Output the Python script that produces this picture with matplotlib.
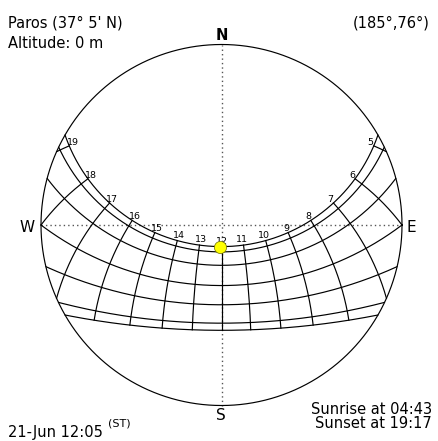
import numpy as np
import matplotlib
matplotlib.use("Agg")
import matplotlib.pyplot as plt

# ---- data ----
LATITUDE = 37 + 5 / 60          # Paros, 37° 5' N
# solar declinations of the drawn day paths (21st of Jun, May, Apr, Mar, Feb, Jan, Dec)
DAY_DECLINATIONS = [23.44, 20.14, 11.9, 0.0, -10.6, -20.0, -23.44]
HOUR_LINES = list(range(4, 21))           # solar hours drawn as hour lines
HOUR_LABELS = list(range(5, 20))          # hour labels on the 21-Jun path
SUN_AZIMUTH = 185
SUN_ALTITUDE = 76

TITLE_PLACE = "Paros (37° 5' N)"
TITLE_ALT = "Altitude: 0 m"
SUN_POS_TEXT = "(185°,76°)"
DATE_TEXT = "21-Jun 12:05"
DATE_SUP = "(ST)"
SUNRISE_TEXT = "Sunrise at 04:43"
SUNSET_TEXT = "Sunset at 19:17"

# ---- layout ----
W, H, DPI = 438, 441, 100
CX, CY, R = 221.5, 225.0, 180.5      # circle centre / radius in pixels (from top-left)

fig = plt.figure(figsize=(W / DPI, H / DPI), dpi=DPI)
fig.patch.set_facecolor("white")
ax = fig.add_axes([0, 0, 1, 1])
ax.set_xlim(-CX / R, (W - CX) / R)
ax.set_ylim(-(H - CY) / R, CY / R)
ax.axis("off")

FONT = "DejaVu Sans"


def project(dec, ha):
    """stereographic projection of the sun at declination dec / hour angle ha (deg)"""
    phi = np.radians(LATITUDE)
    d = np.radians(dec)
    h = np.radians(ha)
    e = -np.cos(d) * np.sin(h)
    n = np.sin(d) * np.cos(phi) - np.cos(d) * np.cos(h) * np.sin(phi)
    u = np.sin(phi) * np.sin(d) + np.cos(phi) * np.cos(d) * np.cos(h)
    x = e / (1 + u)
    y = n / (1 + u)
    x = np.where(u >= 0, x, np.nan)
    y = np.where(u >= 0, y, np.nan)
    return x, y


LW = 0.85
# horizon circle
t = np.linspace(0, 2 * np.pi, 721)
ax.plot(np.cos(t), np.sin(t), color="black", lw=LW, zorder=3)

# dotted cross
dot = (0, (1, 2.2))
ax.plot([-1, 1], [0, 0], ls=dot, color="#555555", lw=1.0, zorder=1)
ax.plot([0, 0], [-1, 1], ls=dot, color="#555555", lw=1.0, zorder=1)

# day paths
ha_grid = np.linspace(-180, 180, 4001)
for dec in DAY_DECLINATIONS:
    x, y = project(dec, ha_grid)
    ax.plot(x, y, color="black", lw=LW, zorder=2)

# hour lines
dec_grid = np.linspace(min(DAY_DECLINATIONS), max(DAY_DECLINATIONS), 1001)
for hr in HOUR_LINES:
    x, y = project(dec_grid, np.full_like(dec_grid, (hr - 12) * 15.0))
    ax.plot(x, y, color="black", lw=LW, zorder=2)

# hour labels (on the 21-Jun path)
px2pt = 72.0 / DPI
for hr in HOUR_LABELS:
    x, y = project(max(DAY_DECLINATIONS), (hr - 12) * 15.0)
    k = abs(hr - 12) / 7.0
    sgn = np.sign(12 - hr)
    dx = -sgn * (1.0 + 2.5 * k)
    dy = 5.5 - 2.5 * k
    ax.annotate(str(hr), (float(x), float(y)), xytext=(dx * px2pt, dy * px2pt),
                textcoords="offset points", ha="center", va="center",
                fontsize=6.8, family=FONT, color="black", zorder=4)

# sun
z = np.radians(90 - SUN_ALTITUDE)
r = np.tan(z / 2)
az = np.radians(SUN_AZIMUTH)
ax.plot([r * np.sin(az)], [r * np.cos(az)], marker="o", ms=8.8,
        mfc="#ffff00", mec="#6b6b00", mew=0.5, zorder=6)

# compass letters
def ftext(xp, yp, s, **kw):
    fig.text(xp / W, 1 - yp / H, s, family=kw.pop("family", FONT), **kw)

ftext(221.5, 40, "N", ha="center", va="baseline", fontsize=10.5, fontweight="bold")
ftext(220.5, 420, "S", ha="center", va="baseline", fontsize=11)
ftext(35, 232, "W", ha="right", va="baseline", fontsize=11)
ftext(407, 232, "E", ha="left", va="baseline", fontsize=11)

# corner texts
ftext(8, 27, TITLE_PLACE, ha="left", va="baseline", fontsize=10.5)
ftext(8, 47.5, TITLE_ALT, ha="left", va="baseline", fontsize=10.5)
ftext(430, 27, SUN_POS_TEXT, ha="right", va="baseline", fontsize=10.5)
ftext(8, 436.5, DATE_TEXT, ha="left", va="baseline", fontsize=10.5)
ftext(108, 426.5, DATE_SUP, ha="left", va="baseline", fontsize=8)
ftext(432, 414.5, SUNRISE_TEXT, ha="right", va="baseline", fontsize=10.5)
ftext(432, 428.5, SUNSET_TEXT, ha="right", va="baseline", fontsize=10.5)

fig.savefig("out.png", dpi=DPI, facecolor="white")
